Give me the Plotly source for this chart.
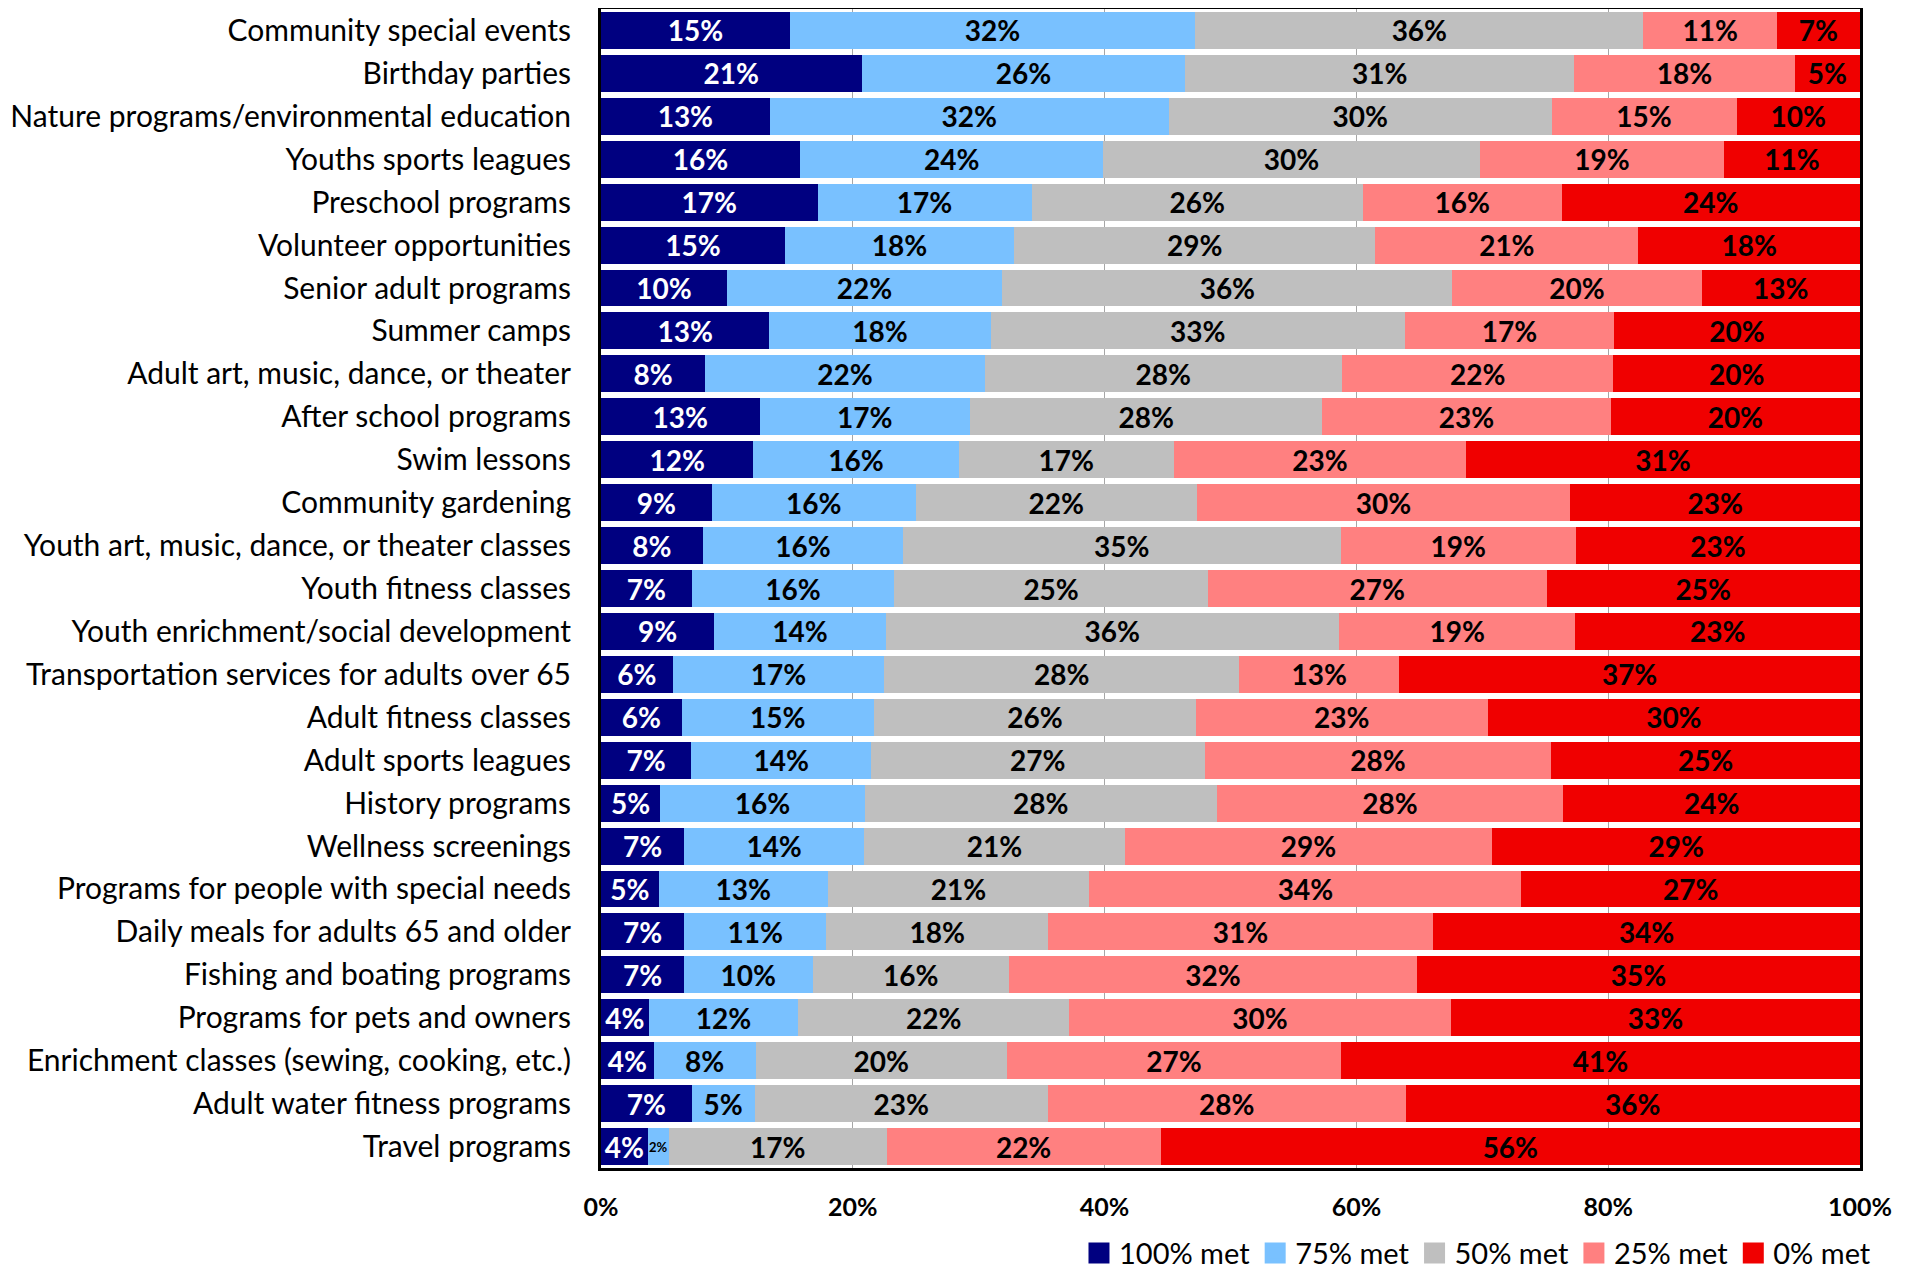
import plotly.graph_objects as go

categories = [
    "Community special events",
    "Birthday parties",
    "Nature programs/environmental education",
    "Youths sports leagues",
    "Preschool programs",
    "Volunteer opportunities",
    "Senior adult programs",
    "Summer camps",
    "Adult art, music, dance, or theater",
    "After school programs",
    "Swim lessons",
    "Community gardening",
    "Youth art, music, dance, or theater classes",
    "Youth fitness classes",
    "Youth enrichment/social development",
    "Transportation services for adults over 65",
    "Adult fitness classes",
    "Adult sports leagues",
    "History programs",
    "Wellness screenings",
    "Programs for people with special needs",
    "Daily meals for adults 65 and older",
    "Fishing and boating programs",
    "Programs for pets and owners",
    "Enrichment classes (sewing, cooking, etc.)",
    "Adult water fitness programs",
    "Travel programs",
]

met_100 = [15.0, 20.7, 13.4, 15.8, 17.2, 14.6, 10.0, 13.4, 8.3, 12.6, 12.1, 8.8, 8.1, 7.2,
           9.0, 5.7, 6.4, 7.2, 4.7, 6.6, 4.6, 6.6, 6.6, 3.8, 4.2, 7.2, 3.7]
met_75 = [32.2, 25.7, 31.7, 24.1, 17.0, 18.2, 21.9, 17.6, 22.2, 16.7, 16.3, 16.2, 15.9, 16.1,
          13.6, 16.8, 15.3, 14.3, 16.3, 14.3, 13.4, 11.3, 10.2, 11.9, 8.1, 5.0, 1.7]
met_50 = [35.6, 30.9, 30.4, 29.9, 26.3, 28.7, 35.8, 33.0, 28.4, 28.0, 17.1, 22.3, 34.8, 24.9,
          36.0, 28.2, 25.6, 26.6, 28.0, 20.7, 20.8, 17.6, 15.6, 21.6, 20.0, 23.3, 17.3]
met_25 = [10.6, 17.5, 14.7, 19.4, 15.8, 20.9, 19.8, 16.6, 21.6, 22.9, 23.2, 29.7, 18.7, 26.9,
          18.8, 12.7, 23.2, 27.6, 27.6, 29.2, 34.3, 30.6, 32.4, 30.4, 26.6, 28.4, 21.8]
met_0 = [6.6, 5.2, 9.8, 10.8, 23.7, 17.6, 12.6, 19.6, 19.6, 19.8, 31.3, 23.0, 22.6, 24.9,
         22.6, 36.6, 29.6, 24.6, 23.6, 29.2, 26.9, 33.9, 35.2, 32.6, 41.3, 36.1, 55.6]

series_names = ["100% met", "75% met", "50% met", "25% met", "0% met"]
series_values = [met_100, met_75, met_50, met_25, met_0]
series_colors = ["#000080", "#79C1FF", "#BFBFBF", "#FF8080", "#F00000"]
text_colors = ["white", "black", "black", "black", "black"]

x_tickvals = [0, 20, 40, 60, 80, 100]
x_ticktext = ["0%", "20%", "40%", "60%", "80%", "100%"]

FONT = "Lato"

fig = go.Figure()
for name, vals, col, tcol in zip(series_names, series_values, series_colors, text_colors):
    fig.add_trace(go.Bar(
        y=categories, x=vals, name=name, orientation="h",
        marker=dict(color=col, line=dict(width=0)),
        text=[f"{int(v + 0.5)}%" for v in vals],
        textposition="inside", insidetextanchor="middle", textangle=0,
        constraintext="none",
        insidetextfont=dict(family=FONT, color=tcol, weight="bold",
                            size=[28 if v >= 3 else 13 for v in vals]),
        showlegend=False, hoverinfo="skip",
    ))
    fig.add_trace(go.Scatter(
        x=[None], y=[None], mode="markers", name=name,
        marker=dict(symbol="square", size=16, color=col, line=dict(color=col, width=5)),
        showlegend=True,
    ))

fig.update_layout(
    width=1917, height=1267,
    margin=dict(l=593, r=65, t=1, b=107, autoexpand=False),
    barmode="stack", barnorm="percent", bargap=0.14,
    plot_bgcolor="white", paper_bgcolor="white",
    font=dict(family=FONT, color="black"),
    legend=dict(
        orientation="h", x=1.0127, xanchor="right", y=-0.0735, yanchor="middle",
        font=dict(family=FONT, size=29, color="black"),
        itemwidth=30, tracegroupgap=0, traceorder="normal",
    ),
)
fig.update_xaxes(
    range=[0, 100], tickvals=x_tickvals, ticktext=x_ticktext,
    tickfont=dict(family=FONT, size=25, color="black", weight="bold"),
    showgrid=True, gridcolor="#A6A6A6", gridwidth=1,
    showline=True, linecolor="black", linewidth=3, mirror=True,
    ticks="", ticklabelstandoff=15, zeroline=False,
)
fig.update_yaxes(
    autorange="reversed",
    tickfont=dict(family=FONT, size=30, color="black"),
    showline=True, linecolor="black", linewidth=3, mirror=True,
    ticks="", ticklabelstandoff=21, showgrid=False,
)

fig.write_html("out.html")
